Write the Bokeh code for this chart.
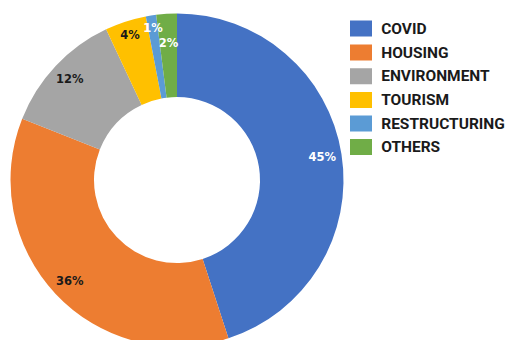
import numpy as np
from bokeh.plotting import figure
from bokeh.models import Range1d, ColumnDataSource
from bokeh.core.properties import value
from bokeh.embed import file_html
from bokeh.resources import INLINE

# data
categories = ["COVID", "HOUSING", "ENVIRONMENT", "TOURISM", "RESTRUCTURING", "OTHERS"]
shares = [45, 36, 12, 4, 1, 2]
labels = ["45%", "36%", "12%", "4%", "1%", "2%"]

# styles
colors = ["#4472C4", "#ED7D31", "#A5A5A5", "#FFC000", "#5B9BD5", "#70AD47"]
label_colors = ["white", "#1a1a1a", "#1a1a1a", "#1a1a1a", "white", "white"]
label_r = [147, 147, 147, 152, 154, 137]

W, H = 507, 340
p = figure(width=W, height=H, output_backend="svg", toolbar_location=None,
           x_range=Range1d(0, W), y_range=Range1d(0, H),
           x_axis_location=None, y_axis_location=None, min_border=0,
           title=None)
p.grid.visible = False
p.outline_line_color = None
p.background_fill_color = "white"
p.border_fill_color = "white"

cx, cy = 176.5, 340 - 179.5
r_out, r_in = 166.5, 83

frac = np.array(shares, dtype=float) / sum(shares)
cum_end = np.cumsum(frac)
cum_start = cum_end - frac
# clockwise from top
start_ang = np.pi / 2 - cum_end * 2 * np.pi
end_ang = np.pi / 2 - cum_start * 2 * np.pi
mid = (start_ang + end_ang) / 2

src = ColumnDataSource(dict(start=start_ang, end=end_ang, color=colors))
p.annular_wedge(x=cx, y=cy, inner_radius=r_in, outer_radius=r_out,
                start_angle="start", end_angle="end", fill_color="color",
                line_color=None, source=src)

lr = np.array(label_r, dtype=float)
lsrc = ColumnDataSource(dict(x=cx + lr * np.cos(mid), y=cy + lr * np.sin(mid),
                             t=labels, c=label_colors))
p.text(x="x", y="y", text="t", text_color="c", source=lsrc,
       text_align="center", text_baseline="middle",
       text_font=value("DejaVu Sans"), text_font_style="bold",
       text_font_size="11.5px")

# legend
leg_y = 340 - np.array([28, 52, 75.8, 99.5, 123, 146.5])
lg = ColumnDataSource(dict(y=leg_y, color=colors, name=categories))
p.rect(x=360.5, y="y", width=22, height=16, fill_color="color",
       line_color=None, source=lg)
p.text(x=380.7, y="y", text="name", source=lg, text_align="left",
       text_baseline="middle", text_font=value("Roboto"),
       text_font_style="bold", text_font_size="15.5px", text_color="#1a1a1a")

open("out.html", "w").write(file_html(p, INLINE))
